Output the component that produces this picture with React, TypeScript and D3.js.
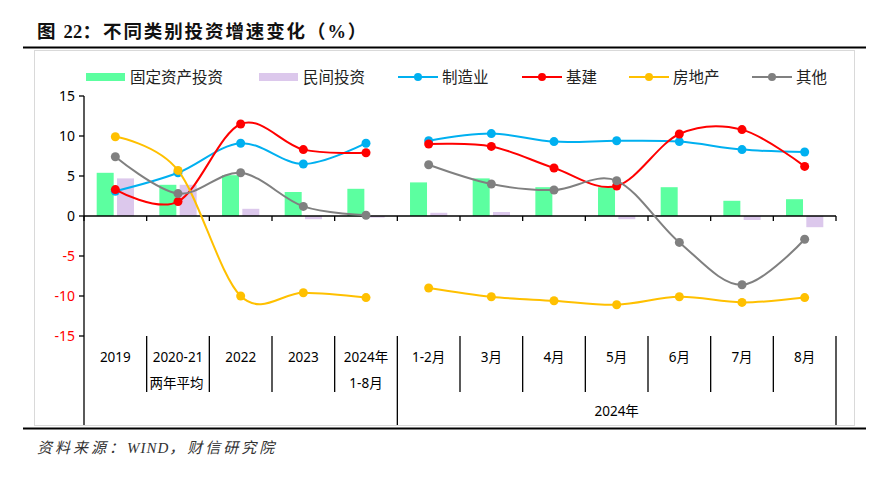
import React from 'react';
import * as d3 from 'd3';

const categories = ['2019', '2020-21', '2022', '2023', '2024年', '1-2月', '3月', '4月', '5月', '6月', '7月', '8月'];
const categorySub = ['', '两年平均', '', '', '1-8月', '', '', '', '', '', '', ''];
const groupLabel = '2024年';
const yTicks = [-15, -10, -5, 0, 5, 10, 15];

const fixedAsset = [5.4, 3.9, 5.1, 3.0, 3.4, 4.2, 4.7, 3.6, 3.6, 3.6, 1.9, 2.1];
const privateInv = [4.7, 3.9, 0.9, -0.4, -0.2, 0.4, 0.5, 0.0, -0.4, 0.0, -0.5, -1.4];
const manufacturing = [3.1, 5.4, 9.1, 6.5, 9.1, 9.4, 10.3, 9.3, 9.4, 9.3, 8.3, 8.0];
const infrastructure = [3.3, 1.8, 11.5, 8.3, 7.9, 9.0, 8.7, 6.0, 3.75, 10.25, 10.8, 6.2];
const realEstate = [9.9, 5.7, -10.0, -9.6, -10.2, -9.0, -10.1, -10.6, -11.1, -10.1, -10.8, -10.2];
const others = [7.4, 2.8, 5.4, 1.2, 0.1, 6.4, 4.0, 3.25, 4.4, -3.3, -8.6, -2.9];

const segments: [number, number][] = [[0, 4], [5, 11]];

const lineSeries = [
  { name: '制造业', values: manufacturing, color: '#00B0F0' },
  { name: '基建', values: infrastructure, color: '#FF0000' },
  { name: '房地产', values: realEstate, color: '#FFC000' },
  { name: '其他', values: others, color: '#808080' },
];

const W = 891, H = 477;
const left = 84, right = 836, top = 96, bottom = 336;

export default function App() {
  const x = d3.scaleBand<number>().domain(d3.range(categories.length)).range([left, right]).padding(0);
  const y = d3.scaleLinear().domain([-15, 15]).range([bottom, top]);
  const bw = x.bandwidth();
  const sub = d3.scaleBand<string>().domain(['fai', 'pri']).range([0, bw]).paddingInner(0.163).paddingOuter(0.625);
  const cx = (i: number) => (x(i) as number) + bw / 2;

  const mkPath = (vals: number[], a: number, b: number) => {
    const pts: [number, number][] = [];
    for (let i = a; i <= b; i++) pts.push([cx(i), y(vals[i])]);
    return d3.line().curve(d3.curveCatmullRom.alpha(0))(pts) || '';
  };

  const font = '"Noto Sans", "Noto Sans CJK SC", sans-serif';
  const cjk = '"Noto Sans CJK SC", sans-serif';
  const serif = '"Liberation Serif", serif';
  const bar = (v: number) => ({ y: y(Math.max(0, v)), h: Math.abs(y(v) - y(0)) });
  const boundaries = d3.range(categories.length + 1).map(i => left + i * bw);
  const tallSeps = new Set([0, 5, 12]);

  const legendBars = [
    { name: '固定资产投资', color: '#5CFFA0', x: 86 },
    { name: '民间投资', color: '#DCC8EC', x: 259 },
  ];
  const legendLineX = [398, 522, 629, 752];
  const legY = 77;

  return (
    <svg width={W} height={H} style={{ position: 'absolute', left: 0, top: 0, background: '#fff' }}>
      <text x={37} y={38} fontWeight="bold" fontSize={18.5} fill="#111" letterSpacing={1.9}>
        <tspan fontFamily={cjk}>图 </tspan>
        <tspan fontFamily={serif} letterSpacing={0.3}>22</tspan>
        <tspan fontFamily={cjk}>：不同类别投资增速变化（</tspan>
        <tspan fontFamily={serif}>%</tspan>
        <tspan fontFamily={cjk}>）</tspan>
      </text>
      <line x1={23} x2={866} y1={47.5} y2={47.5} stroke="#000" strokeWidth={2.2} />
      <rect x={34.5} y={50.5} width={820} height={375} fill="none" stroke="#D9D9D9" strokeWidth={1} />
      <line x1={23} x2={866} y1={428.5} y2={428.5} stroke="#000" strokeWidth={2.2} />
      <text x={37} y={453} fontStyle="italic" fontSize={15} fill="#333">
        <tspan fontFamily={cjk} letterSpacing={3}>资料来源：</tspan>
        <tspan fontFamily={serif} letterSpacing={1}>WIND</tspan>
        <tspan fontFamily={cjk} letterSpacing={3}>，财信研究院</tspan>
      </text>

      {/* legend */}
      {legendBars.map(l => (
        <g key={l.name}>
          <rect x={l.x} y={legY - 4} width={39} height={8} fill={l.color} />
          <text x={l.x + 44} y={legY + 5.5} fontSize={15.5} fontFamily={font} fill="#222">{l.name}</text>
        </g>
      ))}
      {lineSeries.map((s, k) => (
        <g key={s.name}>
          <line x1={legendLineX[k]} x2={legendLineX[k] + 40} y1={legY} y2={legY} stroke={s.color} strokeWidth={2} />
          <circle cx={legendLineX[k] + 20} cy={legY} r={4} fill={s.color} />
          <text x={legendLineX[k] + 44} y={legY + 5.5} fontSize={15.5} fontFamily={font} fill="#222">{s.name}</text>
        </g>
      ))}

      {/* bars */}
      {categories.map((c, i) => {
        const b1 = bar(fixedAsset[i]);
        const b2 = bar(privateInv[i]);
        return (
          <g key={c}>
            <rect x={(x(i) as number) + (sub('fai') as number)} y={b1.y} width={sub.bandwidth()} height={b1.h} fill="#5CFFA0" />
            <rect x={(x(i) as number) + (sub('pri') as number)} y={b2.y} width={sub.bandwidth()} height={b2.h} fill="#DCC8EC" />
          </g>
        );
      })}

      {/* y axis */}
      <line x1={left} x2={left} y1={top} y2={425} stroke="#000" strokeWidth={1.3} />
      {yTicks.map(t => (
        <g key={t}>
          <line x1={left - 5} x2={left} y1={y(t)} y2={y(t)} stroke="#000" strokeWidth={1.3} />
          <text x={left - 9} y={y(t) + 5} textAnchor="end" fontSize={14} fontFamily={font} fill={t < 0 ? '#FF0000' : '#000'}>{t}</text>
        </g>
      ))}

      {/* x axis at zero */}
      <line x1={left} x2={right} y1={y(0)} y2={y(0)} stroke="#000" strokeWidth={1.3} />
      {boundaries.map((bx, i) => (
        <line key={'t' + i} x1={bx} x2={bx} y1={y(0)} y2={y(0) + 5} stroke="#000" strokeWidth={1.3} />
      ))}
      {boundaries.map((bx, i) => i === 0 ? null : (
        <line key={'s' + i} x1={bx} x2={bx} y1={bottom} y2={tallSeps.has(i) ? 425 : 392} stroke="#000" strokeWidth={1.3} />
      ))}
      {categories.map((c, i) => (
        <g key={'l' + c}>
          <text x={cx(i)} y={362} textAnchor="middle" fontSize={13.5} fontFamily={font} fill="#000">{c}</text>
          {categorySub[i] && (
            <text x={cx(i) - (i === 1 ? 1.5 : 0)} y={388} textAnchor="middle" fontSize={13.5} fontFamily={font} fill="#000">{categorySub[i]}</text>
          )}
        </g>
      ))}
      <text x={(boundaries[5] + boundaries[12]) / 2} y={416} textAnchor="middle" fontSize={13.5} fontFamily={font} fill="#000">{groupLabel}</text>

      {/* lines */}
      {lineSeries.map(s => (
        <g key={'ln' + s.name}>
          {segments.map(([a, b]) => (
            <path key={a} d={mkPath(s.values, a, b)} fill="none" stroke={s.color} strokeWidth={2} />
          ))}
          {s.values.map((v, i) => (
            <circle key={i} cx={cx(i)} cy={y(v)} r={4.5} fill={s.color} />
          ))}
        </g>
      ))}
    </svg>
  );
}
